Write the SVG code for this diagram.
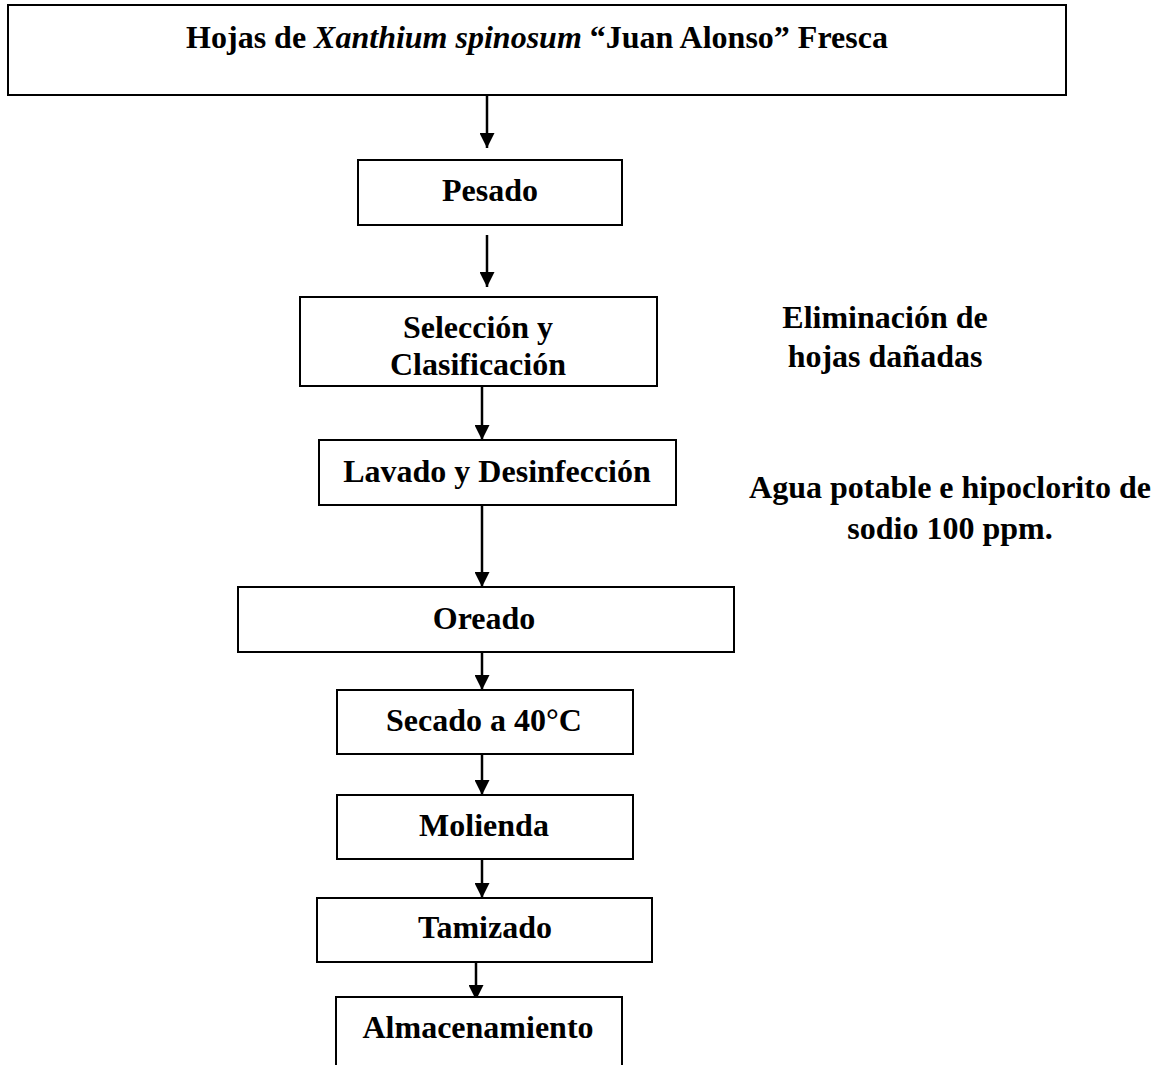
<svg xmlns="http://www.w3.org/2000/svg" width="1159" height="1065" viewBox="0 0 1159 1065">
<defs>
<marker id="ah" viewBox="0 0 15 15" refX="15" refY="7.5" markerWidth="15" markerHeight="15" markerUnits="userSpaceOnUse" orient="auto">
<path d="M0,0 L15,7.5 L0,15 Z" fill="#000"/>
</marker>
<style>
.box{fill:#fff;stroke:#000;stroke-width:2}
.t{font-family:"Liberation Serif","Times New Roman",serif;font-weight:bold;font-size:32px;fill:#000;text-anchor:middle}
.c{stroke:#000;stroke-width:2.5;fill:none;marker-end:url(#ah)}
</style>
</defs>
<rect width="1159" height="1065" fill="#fff"/>
<g id="connectors">
<line class="c" x1="487" y1="95" x2="487" y2="148"/>
<line class="c" x1="487" y1="235" x2="487" y2="287"/>
<line class="c" x1="482" y1="386" x2="482" y2="440"/>
<line class="c" x1="482" y1="505" x2="482" y2="587"/>
<line class="c" x1="482" y1="652" x2="482" y2="690"/>
<line class="c" x1="482" y1="754" x2="482" y2="795"/>
<line class="c" x1="482" y1="859" x2="482" y2="898"/>
<line class="c" x1="476" y1="962" x2="476" y2="1000"/>
</g>
<g id="n-hojas">
<rect class="box" x="8" y="5" width="1058" height="90"/>
<text class="t" x="537" y="48">Hojas de <tspan font-style="italic">Xanthium spinosum</tspan> “Juan Alonso” Fresca</text>
</g>
<g id="n-pesado">
<rect class="box" x="358" y="160" width="264" height="65"/>
<text class="t" x="490" y="201">Pesado</text>
</g>
<g id="n-seleccion">
<rect class="box" x="300" y="297" width="357" height="89"/>
<text class="t" x="478" y="338">Selección y</text>
<text class="t" x="478" y="375">Clasificación</text>
</g>
<g id="n-lavado">
<rect class="box" x="319" y="440" width="357" height="65"/>
<text class="t" x="497" y="482">Lavado y Desinfección</text>
</g>
<g id="n-oreado">
<rect class="box" x="238" y="587" width="496" height="65"/>
<text class="t" x="484" y="629">Oreado</text>
</g>
<g id="n-secado">
<rect class="box" x="337" y="690" width="296" height="64"/>
<text class="t" x="484" y="731">Secado a 40°C</text>
</g>
<g id="n-molienda">
<rect class="box" x="337" y="795" width="296" height="64"/>
<text class="t" x="484" y="836">Molienda</text>
</g>
<g id="n-tamizado">
<rect class="box" x="317" y="898" width="335" height="64"/>
<text class="t" x="485" y="938">Tamizado</text>
</g>
<g id="n-almacenamiento">
<path d="M336,1065 V997 H622 V1065" fill="#fff" stroke="#000" stroke-width="2"/>
<text class="t" x="478" y="1038">Almacenamiento</text>
</g>
<g id="note-eliminacion">
<text class="t" x="885" y="328">Eliminación de</text>
<text class="t" x="885" y="367">hojas dañadas</text>
</g>
<g id="note-agua">
<text class="t" x="950" y="498">Agua potable e hipoclorito de</text>
<text class="t" x="950" y="539">sodio 100 ppm.</text>
</g>
</svg>
